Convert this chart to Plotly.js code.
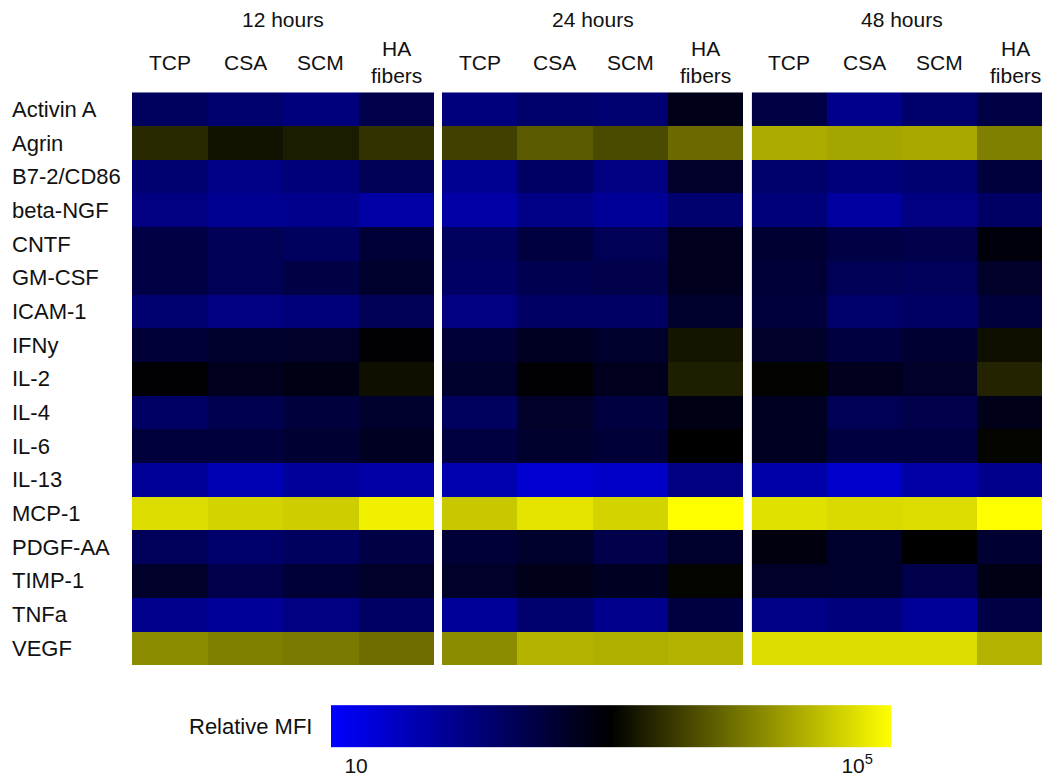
<!DOCTYPE html>
<html>
<head>
<meta charset="utf-8">
<script src="https://cdn.plot.ly/plotly-3.0.1.min.js"></script>
<style>
html,body{margin:0;padding:0;background:#fff;}
#chart{width:1042px;height:778px;}
</style>
</head>
<body>
<div id="chart"></div>
<script>
// Row (analyte) labels, top to bottom
const analytes = ["Activin A","Agrin","B7-2/CD86","beta-NGF","CNTF","GM-CSF","ICAM-1","IFNy","IL-2","IL-4","IL-6","IL-13","MCP-1","PDGF-AA","TIMP-1","TNFa","VEGF"];
// Column (substrate) labels
const substrates = ["TCP","CSA","SCM","HA<br>fibers"];
// Time-point panel titles
const timepoints = ["12 hours","24 hours","48 hours"];

const logMFI_12h = [
  [2.20,2.07,1.94,2.38],
  [3.39,3.19,3.28,3.47],
  [2.03,1.85,1.98,2.29],
  [1.90,1.76,1.81,1.59],
  [2.42,2.29,2.20,2.55],
  [2.42,2.29,2.42,2.64],
  [2.03,1.90,1.98,2.29],
  [2.55,2.64,2.68,2.99],
  [2.99,2.77,2.86,3.17],
  [2.16,2.33,2.51,2.64],
  [2.51,2.51,2.60,2.73],
  [1.72,1.46,1.68,1.59],
  [4.96,4.88,4.83,5.14],
  [2.25,2.11,2.20,2.42],
  [2.68,2.38,2.55,2.68],
  [1.81,1.72,1.90,2.16],
  [4.26,4.16,4.10,4.00]
];
const logMFI_24h = [
  [1.94,2.11,2.03,2.82],
  [3.60,3.82,3.69,3.96],
  [1.76,2.16,1.90,2.68],
  [1.59,1.85,1.72,2.07],
  [2.20,2.47,2.29,2.77],
  [2.16,2.33,2.38,2.77],
  [1.90,2.16,2.16,2.64],
  [2.55,2.73,2.64,3.21],
  [2.64,2.99,2.77,3.30],
  [2.20,2.68,2.47,2.86],
  [2.47,2.64,2.55,3.03],
  [1.50,1.19,1.28,1.90],
  [4.79,5.03,4.88,5.27],
  [2.55,2.64,2.38,2.64],
  [2.68,2.82,2.73,3.08],
  [1.72,2.07,1.81,2.47],
  [4.26,4.61,4.57,4.60]
];
const logMFI_48h = [
  [2.42,1.81,2.11,2.42],
  [4.54,4.48,4.51,4.16],
  [2.11,1.98,2.03,2.51],
  [1.98,1.63,1.90,2.16],
  [2.60,2.42,2.38,2.95],
  [2.55,2.29,2.25,2.68],
  [2.51,2.11,2.16,2.51],
  [2.68,2.47,2.60,3.17],
  [3.06,2.77,2.68,3.34],
  [2.73,2.29,2.38,2.82],
  [2.73,2.47,2.47,3.08],
  [1.55,1.24,1.59,1.81],
  [5.01,4.95,4.96,5.27],
  [2.90,2.64,3.03,2.60],
  [2.68,2.64,2.38,2.86],
  [1.85,1.94,1.72,2.42],
  [4.96,4.96,4.96,4.61]
];
// Colour bar tick labels (log10 positions and text)
const cbTickVals = [1, 5];
const cbTickText = ["10", "10<sup>5</sup>"];

const W = 1042, H = 778;
const FONT = "Liberation Sans, Arial, sans-serif";
const INK = "#111";
const px = v => v / W;
const py = v => 1 - v / H;

const panels = [logMFI_12h, logMFI_24h, logMFI_48h];
const axisIds = ["x", "x2", "x3"];
const traces = panels.map((z, i) => ({
  type: "heatmap",
  x: substrates,
  y: analytes,
  z: z,
  xaxis: axisIds[i],
  yaxis: "y",
  coloraxis: "coloraxis",
  hoverinfo: "skip"
}));

const xCommon = {
  type: "category",
  side: "top",
  anchor: "y",
  showgrid: false,
  zeroline: false,
  showline: false,
  showticklabels: false,
  ticks: "",
  fixedrange: true
};

const annotations = [];
// Panel titles
timepoints.forEach((t, i) => {
  annotations.push({text: t, xref: axisIds[i], x: 1.5, yref: "paper", y: py(19.5),
    showarrow: false, xanchor: "center", yanchor: "middle",
    font: {family: FONT, size: 21, color: INK}});
});
// Column labels (vertically centred, like the reference)
axisIds.forEach(ax => {
  substrates.forEach((s, j) => {
    annotations.push({text: s, xref: ax, x: j, yref: "paper", y: py(62.5),
      showarrow: false, xanchor: "center", yanchor: "middle",
      font: {family: FONT, size: 21, color: INK}});
  });
});
// Colour bar label
annotations.push({text: "Relative MFI", xref: "paper", x: px(314), yref: "paper", y: py(726),
  showarrow: false, xanchor: "right", yanchor: "middle",
  font: {family: FONT, size: 22, color: INK}});

const layout = {
  width: W, height: H,
  margin: {l: 0, r: 0, t: 0, b: 0},
  paper_bgcolor: "#fff",
  plot_bgcolor: "#fff",
  font: {family: FONT, size: 21, color: INK},
  showlegend: false,
  xaxis: Object.assign({}, xCommon, {domain: [px(132), px(434)], range: [-0.5, 3.5]}),
  xaxis2: Object.assign({}, xCommon, {domain: [px(442), px(743)], range: [-0.5, 3.5]}),
  xaxis3: Object.assign({}, xCommon, {domain: [px(751.7), 1], range: [-0.5, 3.355]}),
  yaxis: {
    type: "category",
    autorange: "reversed",
    domain: [py(665), py(92.3)],
    anchor: "free",
    position: px(8),
    ticklabelposition: "inside",
    ticklabeloverflow: "allow",
    showgrid: false, zeroline: false, showline: false,
    ticks: "",
    tickfont: {family: FONT, size: 22, color: INK},
    fixedrange: true
  },
  coloraxis: {
    cmin: 0.8, cmax: 5.27,
    colorscale: [[0, "rgb(0,0,255)"], [0.5, "rgb(0,0,0)"], [1, "rgb(255,255,0)"]],
    colorbar: {
      orientation: "h",
      x: px(611), xanchor: "center",
      y: 1 - 773 / H, yanchor: "bottom",
      len: 560, lenmode: "pixels",
      thickness: 42, thicknessmode: "pixels",
      xpad: 0, ypad: 0,
      outlinewidth: 0,
      ticks: "",
      tickvals: cbTickVals,
      ticktext: cbTickText,
      tickfont: {family: FONT, size: 21, color: INK}
    }
  },
  annotations: annotations
};

Plotly.newPlot("chart", traces, layout, {displayModeBar: false, staticPlot: true});
</script>
</body>
</html>
